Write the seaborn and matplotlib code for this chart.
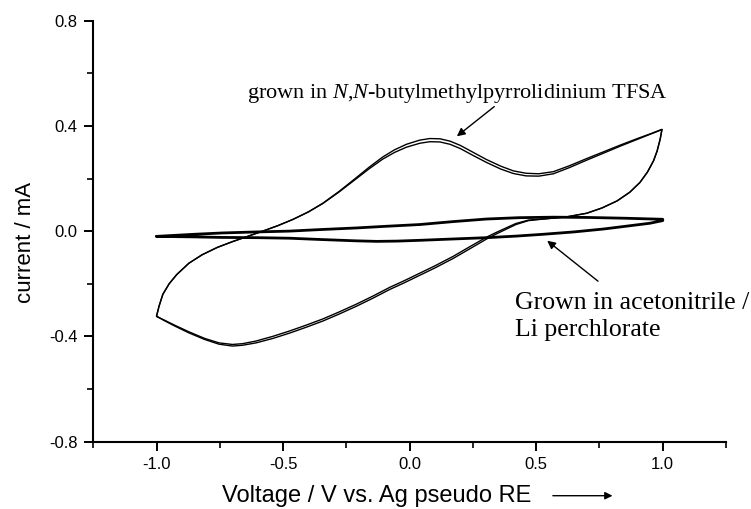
import numpy as np
import pandas as pd
import matplotlib
matplotlib.use("Agg")
import matplotlib.pyplot as plt
import seaborn as sns

# ---------------- data ----------------
# Ionic-liquid grown film: anodic (upper) branch, left -> right
il_up_x = [-1.000, -0.990, -0.975, -0.950, -0.920, -0.872, -0.820, -0.760, -0.700, -0.640,
           -0.580, -0.520, -0.460, -0.400, -0.343, -0.280, -0.211, -0.160, -0.106, -0.060,
           -0.013, 0.040, 0.080, 0.120, 0.160, 0.200, 0.250, 0.304, 0.360, 0.410,
           0.460, 0.510, 0.568, 0.630, 0.700, 0.770, 0.832, 0.900, 0.960, 0.997]
il_up_y1 = [-0.323, -0.285, -0.240, -0.200, -0.165, -0.122, -0.090, -0.062, -0.040, -0.020,
            0.000, 0.021, 0.045, 0.073, 0.106, 0.150, 0.203, 0.243, 0.282, 0.309,
            0.330, 0.346, 0.352, 0.351, 0.342, 0.326, 0.300, 0.272, 0.247, 0.229,
            0.220, 0.218, 0.226, 0.248, 0.276, 0.303, 0.327, 0.352, 0.373, 0.387]
il_up_y2 = [-0.323, -0.285, -0.240, -0.200, -0.165, -0.122, -0.090, -0.062, -0.040, -0.020,
            0.000, 0.021, 0.045, 0.073, 0.105, 0.148, 0.199, 0.237, 0.274, 0.299,
            0.319, 0.334, 0.340, 0.339, 0.330, 0.314, 0.288, 0.261, 0.236, 0.219,
            0.210, 0.209, 0.218, 0.241, 0.270, 0.298, 0.323, 0.349, 0.372, 0.386]
# cathodic (lower) branch, right -> left
il_dn_x = [0.990, 0.978, 0.964, 0.940, 0.910, 0.870, 0.820, 0.760, 0.700, 0.620,
           0.540, 0.470, 0.420, 0.383, 0.340, 0.304, 0.240, 0.172, 0.100, 0.040,
           -0.020, -0.079, -0.145, -0.211, -0.280, -0.343, -0.410, -0.475, -0.540, -0.607,
           -0.660, -0.700, -0.753, -0.810, -0.872, -0.930, -0.970, -1.000]
il_dn_y1 = [0.350, 0.305, 0.268, 0.225, 0.185, 0.148, 0.115, 0.088, 0.068, 0.054,
            0.047, 0.040, 0.025, 0.008, -0.012, -0.030, -0.066, -0.104, -0.140, -0.168,
            -0.196, -0.222, -0.255, -0.286, -0.316, -0.342, -0.366, -0.388, -0.408, -0.425,
            -0.434, -0.437, -0.430, -0.412, -0.387, -0.360, -0.340, -0.323]
il_dn_y2 = [0.350, 0.305, 0.268, 0.225, 0.185, 0.148, 0.115, 0.088, 0.068, 0.054,
            0.047, 0.042, 0.029, 0.013, -0.006, -0.023, -0.058, -0.096, -0.132, -0.160,
            -0.188, -0.214, -0.247, -0.278, -0.308, -0.334, -0.358, -0.380, -0.400, -0.418,
            -0.428, -0.431, -0.425, -0.408, -0.383, -0.357, -0.338, -0.325]

# Acetonitrile / LiClO4 grown film
an_up_x = [-1.000, -0.850, -0.740, -0.600, -0.475, -0.350, -0.211, -0.100, 0.040, 0.170,
           0.304, 0.430, 0.568, 0.700, 0.850, 1.000]
an_up_y = [-0.020, -0.012, -0.007, -0.003, 0.000, 0.006, 0.012, 0.018, 0.025, 0.036,
           0.046, 0.051, 0.053, 0.052, 0.049, 0.045]
an_dn_x = [1.000, 0.950, 0.850, 0.766, 0.650, 0.528, 0.420, 0.304, 0.170, 0.040,
           -0.050, -0.130, -0.211, -0.350, -0.475, -0.600, -0.740, -0.850, -1.000]
an_dn_y = [0.040, 0.030, 0.018, 0.008, -0.003, -0.012, -0.019, -0.025, -0.030, -0.035,
           -0.038, -0.039, -0.037, -0.032, -0.027, -0.025, -0.024, -0.022, -0.020]

x_major = [-1.0, -0.5, 0.0, 0.5, 1.0]
x_minor = [-1.25, -0.75, -0.25, 0.25, 0.75, 1.25]
y_major = [-0.8, -0.4, 0.0, 0.4, 0.8]
y_minor = [-0.6, -0.2, 0.2, 0.6]
x_labels = ["-1.0", "-0.5", "0.0", "0.5", "1.0"]
y_labels = ["-0.8", "-0.4", "0.0", "0.4", "0.8"]

label_il = "grown in $\\mathit{N}$,$\\mathit{N}$-butylmethylpyrrolidinium TFSA"
label_an1 = "Grown in acetonitrile /"
label_an2 = "Li perchlorate"

# ---------------- figure ----------------
sns.set_style("ticks")
plt.rcParams["font.family"] = ["Liberation Sans", "DejaVu Sans"]
plt.rcParams["mathtext.fontset"] = "custom"
plt.rcParams["mathtext.rm"] = "Liberation Serif"
plt.rcParams["mathtext.it"] = "Liberation Serif:italic"

fig = plt.figure(figsize=(7.51, 5.09), dpi=100)
ax = fig.add_axes([0.1242, 0.1326, 0.8425, 0.8267])

cyc1 = pd.DataFrame({"x": il_up_x + il_dn_x, "y": il_up_y1 + il_dn_y1})
cyc2 = pd.DataFrame({"x": il_up_x + il_dn_x, "y": il_up_y2 + il_dn_y2})
acn = pd.DataFrame({"x": an_up_x + an_dn_x, "y": an_up_y + an_dn_y})

for d in (cyc1, cyc2):
    sns.lineplot(data=d, x="x", y="y", sort=False, estimator=None, color="black",
                 lw=1.0, ax=ax)
sns.lineplot(data=acn, x="x", y="y", sort=False, estimator=None, color="black",
             lw=2.0, ax=ax)

ax.set_xlim(-1.25, 1.25)
ax.set_ylim(-0.8, 0.8)
ax.set_xticks(x_major)
ax.set_xticklabels(x_labels)
ax.set_xticks(x_minor, minor=True)
ax.set_yticks(y_major)
ax.set_yticklabels(y_labels)
ax.set_yticks(y_minor, minor=True)

for side in ("top", "right"):
    ax.spines[side].set_visible(False)
for side in ("left", "bottom"):
    ax.spines[side].set_linewidth(1.5)
    ax.spines[side].set_color("black")

ax.tick_params(which="major", direction="out", length=6.5, width=1.4, colors="black",
               labelsize=12, pad=4.5)
ax.tick_params(which="minor", direction="out", length=4, width=1.2, colors="black")
ax.tick_params(axis="y", which="major", pad=5)

ax.set_xlabel("Voltage / V vs. Ag pseudo RE", fontsize=17, color="black")
ax.set_ylabel("current / mA", fontsize=16, color="black")
ax.xaxis.set_label_coords(0.448, -0.104)
ax.yaxis.set_label_coords(-0.091, 0.472)

# arrow after x label
ax.annotate("", xy=(0.825, -0.1288), xycoords="axes fraction",
            xytext=(0.722, -0.1288), textcoords="axes fraction",
            arrowprops=dict(arrowstyle="-|>", color="black", lw=1.0,
                            mutation_scale=11), annotation_clip=False)

# annotations
ax.text(-0.642, 0.508, label_il, fontsize=16, family="Liberation Serif",
        ha="left", va="baseline", color="black")
ax.annotate("", xy=(0.178, 0.354), xytext=(0.343, 0.48),
            arrowprops=dict(arrowstyle="-|>", color="black", lw=1.0, mutation_scale=12))

ax.text(0.416, -0.298, label_an1, fontsize=18.5, family="Liberation Serif",
        ha="left", va="baseline", color="black")
ax.text(0.416, -0.399, label_an2, fontsize=18.5, family="Liberation Serif",
        ha="left", va="baseline", color="black")
ax.annotate("", xy=(0.535, -0.030), xytext=(0.753, -0.197),
            arrowprops=dict(arrowstyle="-|>", color="black", lw=1.0, mutation_scale=12))

fig.savefig("out.png", dpi=100, facecolor="white")
